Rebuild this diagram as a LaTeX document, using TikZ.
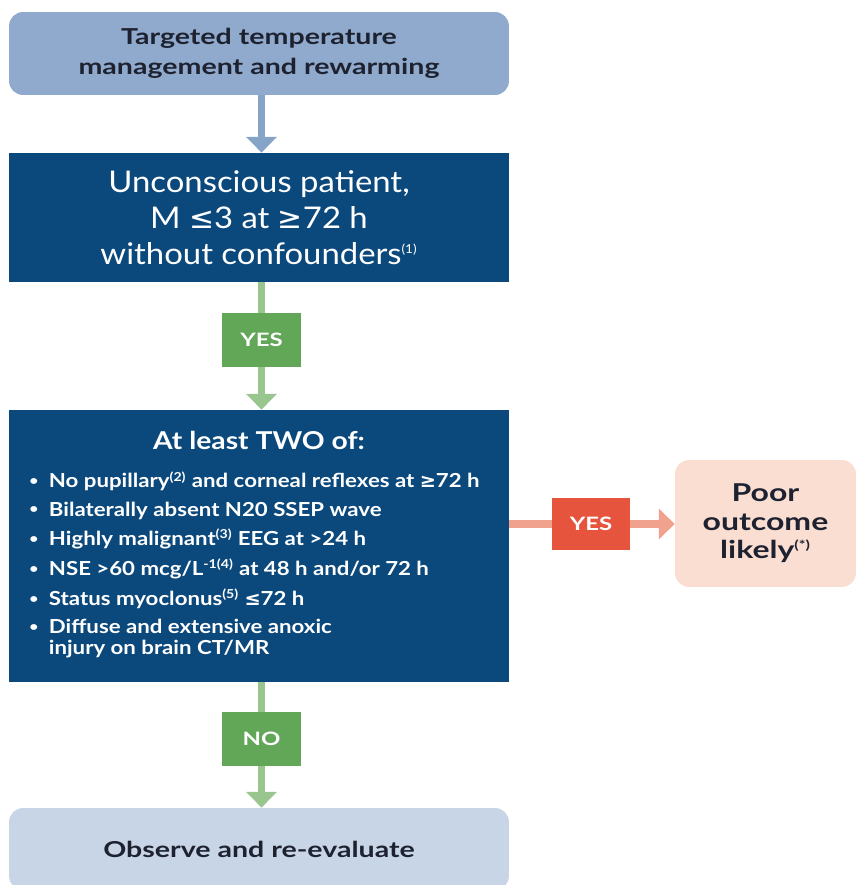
\documentclass[tikz,border=0pt]{standalone}
\usepackage{fontspec}
\setmainfont{Lato}[FakeStretch=1.15]
\newfontfamily\widefont{Lato}[FakeStretch=1.3]
\newfontfamily\patientfont{Lato}[FakeStretch=1.1]
\newfontfamily\symfont{DejaVu Sans}
\usetikzlibrary{arrows.meta, calc, positioning}
\definecolor{tempblue}{RGB}{143,170,204}
\definecolor{templine}{RGB}{134,163,200}
\definecolor{decisionblue}{RGB}{11,72,124}
\definecolor{observeblue}{RGB}{200,213,231}
\definecolor{yesgreen}{RGB}{98,166,88}
\definecolor{greenline}{RGB}{152,198,142}
\definecolor{yesred}{RGB}{231,84,62}
\definecolor{redline}{RGB}{240,162,142}
\definecolor{outcomepeach}{RGB}{250,222,210}
\definecolor{darktext}{RGB}{30,34,48}
\newcommand{\sups}[1]{\textsuperscript{\scriptsize(#1)}}
\newcommand{\dotmark}{\raisebox{0.12em}{\scalebox{0.7}{\textbullet}}}
\tikzset{
    light box/.style  = {rounded corners = 8pt, minimum width = 10cm, align = center, inner sep = 0pt, text = darktext, font = \widefont\bfseries\fontsize{12.5}{17}\selectfont},
    dark box/.style   = {fill = decisionblue, minimum width = 10cm, align = center, inner sep = 0pt, text = white},
    tag box/.style    = {text = white, inner sep = 0pt, font = \widefont\bfseries\fontsize{10.5}{12}\selectfont},
    flow/.style       = {line width = 4pt, -{Triangle[width = 17pt, length = 9pt]}},
    plain flow/.style = {line width = 4pt}
}

\begin{document}
\begin{tikzpicture}[x=0.02cm, y=-0.02cm]
    \useasboundingbox (0,0) rectangle (855,885);

    % boxes
    \node[light box, fill=tempblue, minimum height=1.66cm] (ttm) at (259,53.5) {Targeted temperature\\management and rewarming};
    \node[dark box, minimum height=2.58cm, font=\patientfont\fontsize{17}{20.5}\selectfont] (patient) at (259,217.5) {Unconscious patient,\\M {\symfont≤}3 at {\symfont≥}72 h\\without confounders\sups{1}};
    \node[dark box, minimum height=5.44cm] (criteria) at (259,546) {};
    \node[text=white, font=\bfseries\fontsize{14}{16}\selectfont] (criteriatitle) at (259,440) {At least TWO of:};
    \node[text=white, anchor=north west, inner sep=0pt, font=\bfseries\fontsize{11}{12.2}\selectfont] (criterialist) at (29,471) {%
        \begin{tabular}{@{}l@{\hspace{6pt}}l@{}}
        \dotmark & No pupillary\sups{2} and corneal reflexes at {\symfont≥}72 h\\[3.8pt]
        \dotmark & Bilaterally absent N20 SSEP wave\\[3.8pt]
        \dotmark & Highly malignant\sups{3} EEG at >24 h\\[3.8pt]
        \dotmark & NSE >60 mcg/L\textsuperscript{\scriptsize-1(4)} at 48 h and/or 72 h\\[3.8pt]
        \dotmark & Status myoclonus\sups{5} {\symfont≤}72 h\\[3.8pt]
        \dotmark & Diffuse and extensive anoxic\\
                 & injury on brain CT/MR
        \end{tabular}};
    \node[light box, fill=outcomepeach, minimum width=3.62cm, minimum height=2.54cm, font=\widefont\bfseries\fontsize{14}{16.3}\selectfont] (outcome) at (765.5,523.5) {Poor\\outcome\\likely\sups{*}};
    \node[light box, fill=observeblue, minimum height=1.64cm] (observe) at (259,849) {Observe and re-evaluate};

    % decision tags
    \node[tag box, fill=yesgreen, minimum width=1.58cm, minimum height=1.08cm] (yesdown) at (261.5,340) {YES};
    \node[tag box, fill=yesred, minimum width=1.56cm, minimum height=1.04cm] (yesright) at (591,524) {YES};
    \node[tag box, fill=yesgreen, minimum width=1.58cm, minimum height=1.08cm] (nodown) at (261.5,739) {NO};

    % connectors
    \draw[flow, templine] (ttm.south -| yesdown) -- (patient.north -| yesdown);
    \draw[plain flow, greenline] (patient.south -| yesdown) -- (yesdown);
    \draw[flow, greenline] (yesdown) -- (criteria.north -| yesdown);
    \draw[plain flow, redline] (criteria.east |- yesright) -- (yesright);
    \draw[flow, redline] (yesright) -- (outcome.west |- yesright);
    \draw[plain flow, greenline] (criteria.south -| nodown) -- (nodown);
    \draw[flow, greenline] (nodown) -- (observe.north -| nodown);
\end{tikzpicture}
\end{document}
